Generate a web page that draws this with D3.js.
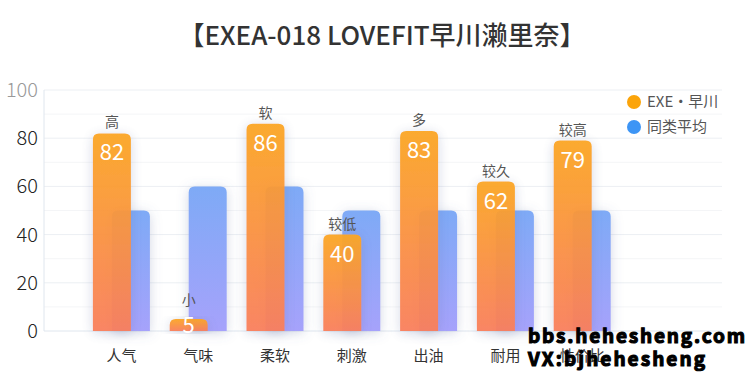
<!DOCTYPE html>
<html>
<head>
<meta charset="utf-8" />
<title>EXEA-018 LOVEFIT</title>
<script src="https://cdn.jsdelivr.net/npm/d3@7"></script>
<style>
    body { margin: 0; background: #fff; }
    text { font-family: "Noto Sans CJK SC", "Noto Sans", sans-serif; }
</style>
</head>
<body>
<script>
    // data
    var categories = ['人气', '气味', '柔软', '刺激', '出油', '耐用', '性价比'];
    var productValues = [82, 5, 86, 40, 83, 62, 79];
    var averageValues = [50, 60, 60, 50, 50, 50, 50];
    var remarks = ['高', '小', '软', '较低', '多', '较久', '较高'];
    var yTicks = [0, 20, 40, 60, 80, 100];
    var seriesNames = ['EXE・早川', '同类平均'];

    var width = 750, height = 375;
    var plotLeft = 44, plotRight = 722, plotTop = 90, plotBottom = 331;

    var svg = d3.select('body').append('svg')
        .attr('width', width)
        .attr('height', height);

    var defs = svg.append('defs');
    var g1 = defs.append('linearGradient').attr('id', 'gOrange')
        .attr('x1', 0).attr('y1', 0).attr('x2', 0).attr('y2', 1);
    g1.append('stop').attr('offset', '0%').attr('stop-color', '#fba624');
    g1.append('stop').attr('offset', '100%').attr('stop-color', '#f97f5c');
    var g2 = defs.append('linearGradient').attr('id', 'gBlue')
        .attr('x1', 0).attr('y1', 0).attr('x2', 0).attr('y2', 1);
    g2.append('stop').attr('offset', '0%').attr('stop-color', '#7eaaf6');
    g2.append('stop').attr('offset', '100%').attr('stop-color', '#a6a2fb');
    var sh = defs.append('filter').attr('id', 'shadow')
        .attr('x', '-50%').attr('y', '-20%').attr('width', '200%').attr('height', '140%');
    sh.append('feDropShadow').attr('dx', 0).attr('dy', 2).attr('stdDeviation', 6)
        .attr('flood-color', '#6070a0').attr('flood-opacity', 0.28);

    // title
    svg.append('text')
        .attr('x', 382).attr('y', 45)
        .attr('text-anchor', 'middle')
        .style('font-size', '26px')
        .style('font-weight', 500)
        .style('fill', '#333')
        .text('【EXEA-018 LOVEFIT早川濑里奈】');

    // scales
    var x = d3.scaleBand().domain(categories).range([83, 620.6]);
    var y = d3.scaleLinear().domain([0, 100]).range([plotBottom, plotTop]);

    // grid, every 10
    svg.append('g').selectAll('line')
        .data(d3.range(10, 101, 10))
        .enter().append('line')
        .attr('x1', plotLeft).attr('x2', plotRight)
        .attr('y1', function(d) { return y(d); })
        .attr('y2', function(d) { return y(d); })
        .style('stroke', function(d) { return d % 20 === 0 ? '#eceff3' : '#f4f5f7'; })
        .style('stroke-width', 1);

    // axis lines
    svg.append('line').attr('x1', plotLeft).attr('x2', plotLeft).attr('y1', plotTop).attr('y2', plotBottom)
        .style('stroke', '#dfe6ee');
    svg.append('line').attr('x1', plotLeft).attr('x2', plotRight).attr('y1', plotBottom).attr('y2', plotBottom)
        .style('stroke', '#dfe6ee');

    // y labels
    svg.append('g').selectAll('text')
        .data(yTicks)
        .enter().append('text')
        .attr('x', 38)
        .attr('y', function(d) { return y(d) + 7; })
        .attr('text-anchor', 'end')
        .style('font-size', '20px')
        .style('font-weight', 300)
        .style('fill', function(d) { return d === 100 ? '#999' : '#222'; })
        .text(function(d) { return d; });

    var bw = 38, off = 19;

    function roundTop(x0, y0, w, h, r) {
        r = Math.min(r, h);
        return 'M' + x0 + ',' + (y0 + h) +
            'V' + (y0 + r) +
            'Q' + x0 + ',' + y0 + ' ' + (x0 + r) + ',' + y0 +
            'H' + (x0 + w - r) +
            'Q' + (x0 + w) + ',' + y0 + ' ' + (x0 + w) + ',' + (y0 + r) +
            'V' + (y0 + h) + 'Z';
    }

    // average bars (behind)
    svg.append('g').selectAll('path')
        .data(averageValues)
        .enter().append('path')
        .attr('filter', 'url(#shadow)')
        .attr('fill', 'url(#gBlue)')
        .attr('d', function(d, i) {
            var x0 = x(categories[i]) + x.bandwidth() / 2 - bw / 2 + off / 2;
            return roundTop(x0, y(d), bw, y(0) - y(d), 6);
        });

    // product bars
    svg.append('g').selectAll('path')
        .data(productValues)
        .enter().append('path')
        .attr('filter', 'url(#shadow)')
        .attr('fill', 'url(#gOrange)')
        .style('opacity', 0.95)
        .attr('d', function(d, i) {
            var x0 = x(categories[i]) + x.bandwidth() / 2 - bw / 2 - off / 2;
            return roundTop(x0, y(d), bw, y(0) - y(d), 6);
        });

    function labelY(d) { return Math.min(y(d) + 27, plotBottom + 2); }

    // value labels inside bars
    svg.append('g').selectAll('text')
        .data(productValues)
        .enter().append('text')
        .attr('x', function(d, i) { return x(categories[i]) + x.bandwidth() / 2 - off / 2; })
        .attr('y', function(d) { return labelY(d); })
        .attr('text-anchor', 'middle')
        .style('font-size', '22px')
        .style('fill', '#fff')
        .text(function(d) { return d; });

    // remarks above bars
    svg.append('g').selectAll('text')
        .data(remarks)
        .enter().append('text')
        .attr('x', function(d, i) { return x(categories[i]) + x.bandwidth() / 2 - off / 2; })
        .attr('y', function(d, i) { return Math.min(y(productValues[i]) - 6, labelY(productValues[i]) - 28); })
        .attr('text-anchor', 'middle')
        .style('font-size', '14px')
        .style('fill', '#555')
        .text(function(d) { return d; });

    // x labels
    svg.append('g').selectAll('text')
        .data(categories)
        .enter().append('text')
        .attr('x', function(d) { return x(d) + x.bandwidth() / 2; })
        .attr('y', 361)
        .attr('text-anchor', 'middle')
        .style('font-size', '15px')
        .style('fill', '#333')
        .text(function(d) { return d; });

    // legend
    var legendColors = ['#fba40a', '#3d95f5'];
    var lg = svg.append('g').selectAll('g')
        .data(seriesNames)
        .enter().append('g')
        .attr('transform', function(d, i) { return 'translate(634,' + (102 + i * 25) + ')'; });
    lg.append('circle').attr('r', 7).style('fill', function(d, i) { return legendColors[i]; });
    lg.append('text').attr('x', 13).attr('y', 5)
        .style('font-size', '15px').style('fill', '#555')
        .text(function(d) { return d; });

    // watermark
    var wm = svg.append('g')
        .style('font-family', '"DejaVu Sans", sans-serif')
        .style('font-weight', 'bold')
        .style('font-size', '19px')
        .style('fill', '#000')
        .style('stroke', '#000')
        .style('stroke-width', 1.1);
    wm.append('text').attr('x', 528).attr('y', 343).attr('textLength', 217).text('bbs.hehesheng.com');
    wm.append('text').attr('x', 528).attr('y', 366).attr('textLength', 177).text('VX:bjhehesheng');
</script>
</body>
</html>
